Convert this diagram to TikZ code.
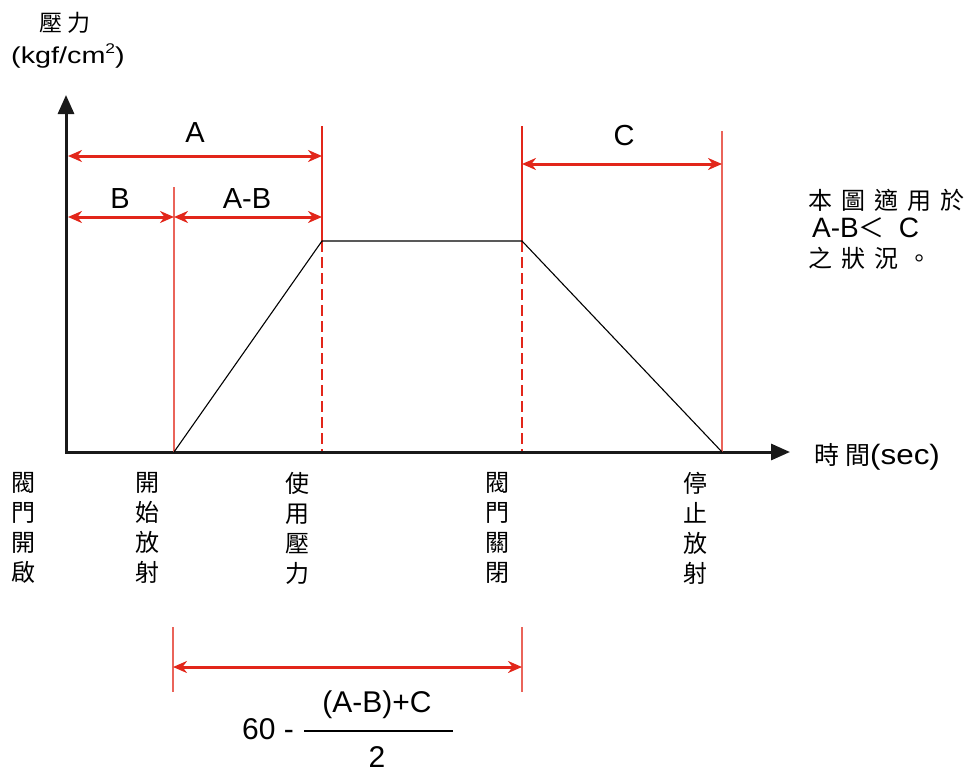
\documentclass[tikz,border=0pt]{standalone}
\usepackage{fontspec}
\setmainfont{Liberation Sans}
\newfontfamily\cjk{Noto Sans CJK TC}
\newfontfamily\widesans[FakeStretch=1.25]{Liberation Sans}
\newfontfamily\semiwide[FakeStretch=1.12]{Liberation Sans}
\usetikzlibrary{arrows.meta}
\definecolor{dimred}{RGB}{226,38,26}
\definecolor{lightred}{RGB}{234,100,90}
\begin{document}
\begin{tikzpicture}[x=1pt,y=-1pt,
  dimarrow/.style={draw=dimred, line width=3pt, {Stealth[length=14pt,width=12pt,inset=4.5pt]}-{Stealth[length=14pt,width=12pt,inset=4.5pt]}},
  refline/.style={draw=dimred, line width=1.5pt},
  thinref/.style={draw=lightred, line width=1.5pt},
  dashline/.style={draw=dimred, line width=2.8pt, dash pattern=on 11pt off 5pt},
  axis/.style={draw=black!90, line width=3pt, line join=miter, {Triangle[length=19pt,width=16pt]}-{Triangle[length=19pt,width=16pt]}},
  lbl/.style={font=\fontsize{29}{34}\selectfont, inner sep=0pt},
  txt/.style={font=\fontsize{30}{34}\selectfont, inner sep=0pt},
  vlbl/.style={font=\cjk\fontsize{24}{30}\selectfont, align=center, inner sep=0pt, anchor=north},
  rtxt/.style={inner sep=0pt, anchor=west},
]
\useasboundingbox (0,0) rectangle (973,773);

% axes
\coordinate (O) at (66,452);
\coordinate (Ytip) at (66,95);
\coordinate (Xtip) at (790,452);
\draw[axis] (Ytip) -- (O) -- (Xtip);

% key points
\coordinate (p1) at (174,452);
\coordinate (p2) at (322,241);
\coordinate (p3) at (522,241);
\coordinate (p4) at (722,452);
\coordinate (q2) at (322,451);
\coordinate (q3) at (522,451);

% reference lines
\coordinate (b1) at (174,187);
\coordinate (a1) at (322,126);
\coordinate (c1) at (522,126);
\coordinate (c2) at (722,131);
\draw[thinref] (b1) -- (p1);
\draw[refline] (a1) -- (p2);
\draw[dashline] (p2) -- (q2);
\draw[refline] (c1) -- (p3);
\draw[dashline] (p3) -- (q3);
\draw[thinref] (c2) -- (p4);

% pressure curve
\draw[line width=1.1pt] (p1) -- (p2) -- (p3) -- (p4);

% dimension arrows
\coordinate (aL) at (68,156);
\coordinate (aR) at (322,156);
\coordinate (bL) at (68,217);
\coordinate (bR) at (174,217);
\coordinate (abR) at (322,217);
\coordinate (cL) at (522,164);
\coordinate (cR) at (722,164);
\draw[dimarrow] (aL) -- (aR);
\draw[dimarrow] (bL) -- (bR);
\draw[dimarrow] (bR) -- (abR);
\draw[dimarrow] (cL) -- (cR);

\node[lbl] (lA) at (195,133) {A};
\node[lbl] (lB) at (120,199) {B};
\node[lbl] (lAB) at (247,199) {A-B};
\node[lbl] (lC) at (624,136) {C};

% bottom dimension
\coordinate (d1t) at (173,627);
\coordinate (d1b) at (173,692);
\coordinate (d2t) at (522,627);
\coordinate (d2b) at (522,692);
\coordinate (dL) at (173,667);
\coordinate (dR) at (522,667);
\draw[thinref] (d1t) -- (d1b);
\draw[thinref] (d2t) -- (d2b);
\draw[dimarrow] (dL) -- (dR);

% formula
\node[txt] (f60) at (268,729) {60 -};
\node[txt] (fnum) at (377,705) {(A-B)+C};
\coordinate (barL) at (304,731);
\coordinate (barR) at (453,731);
\draw[line width=2pt] (barL) -- (barR);
\node[txt] (fden) at (377,757) {2};

% axis labels
\node[inner sep=0pt, font=\cjk\fontsize{23}{26}\selectfont] (yl1) at (65,23) {壓\hspace{5pt}力};
\node[inner sep=0pt, font=\widesans\fontsize{23}{26}\selectfont] (yl2) at (68,56) {(kgf/cm\raisebox{0.42em}{\fontsize{14}{14}\selectfont 2})};
\node[rtxt] (xl) at (814,457) {{\cjk\fontsize{25}{30}\selectfont 時\hspace{6pt}間}{\semiwide\fontsize{28}{32}\selectfont (sec)}};

% note on the right
\node[rtxt, font=\cjk\fontsize{24}{28}\selectfont] (n1) at (808,200) {本\hspace{9pt}圖\hspace{9pt}適\hspace{9pt}用\hspace{9pt}於};
\node[rtxt, font=\fontsize{28}{30}\selectfont] (n2) at (812,228) {A-B{\cjk\fontsize{26}{28}\selectfont ＜}\hspace{14pt}C};
\node[rtxt, font=\cjk\fontsize{24}{28}\selectfont] (n3) at (808,258) {之\hspace{9pt}狀\hspace{9pt}況\hspace{9pt}。};

% event labels
\node[vlbl] (e1) at (23,472) {閥\\門\\開\\啟};
\node[vlbl] (e2) at (147,472) {開\\始\\放\\射};
\node[vlbl] (e3) at (297,472) {使\\用\\壓\\力};
\node[vlbl] (e4) at (497,472) {閥\\門\\關\\閉};
\node[vlbl] (e5) at (695,472) {停\\止\\放\\射};
\end{tikzpicture}
\end{document}
